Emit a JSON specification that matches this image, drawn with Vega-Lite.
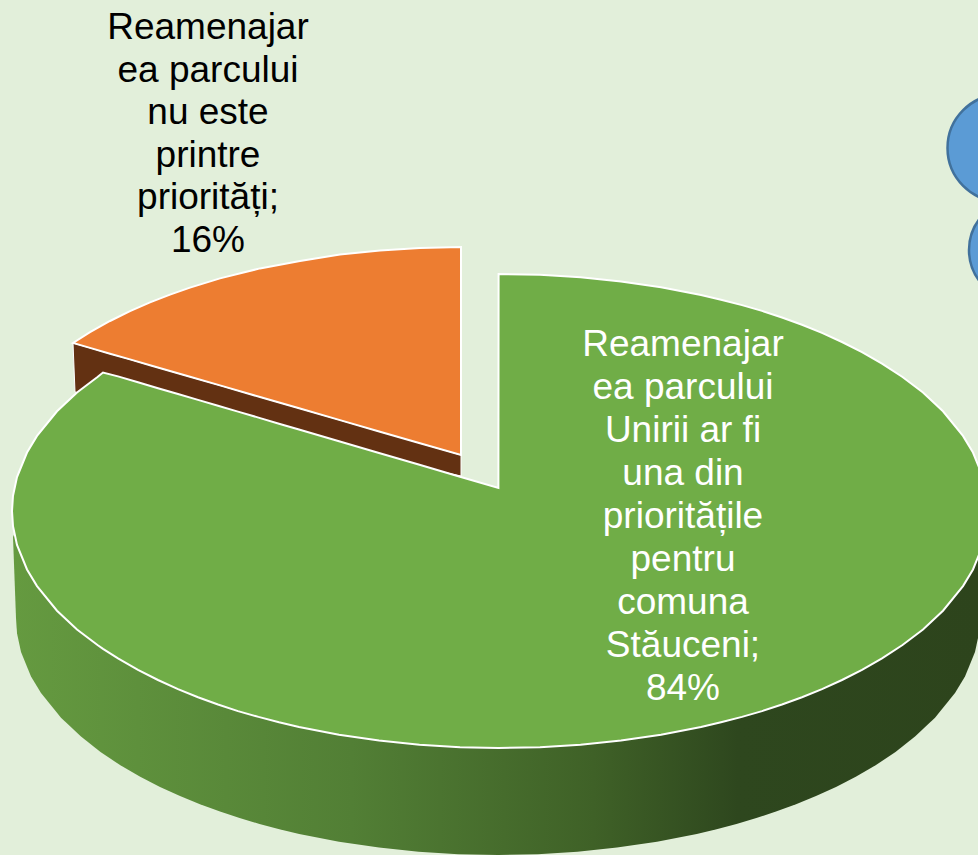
{"$schema":"https://vega.github.io/schema/vega-lite/v6.json","width":978,"height":855,"padding":0,"autosize":{"type":"none"},"background":"#E2EFDA","config":{"view":{"stroke":null}},
"datasets":{
"side":[{"x":13,"y":537,"y2":537},{"x":16,"y":530,"y2":618},{"x":17,"y":530,"y2":633.2},{"x":21,"y":530,"y2":651.9},{"x":31,"y":530,"y2":676.5},{"x":41,"y":530,"y2":693.1},{"x":61,"y":530,"y2":717.7},{"x":81,"y":530,"y2":736.5},{"x":100.5,"y":530,"y2":752},{"x":120.4,"y":530,"y2":765.3},{"x":140.2,"y":530,"y2":776.8},{"x":160,"y":530,"y2":787},{"x":180,"y":530,"y2":796.1},{"x":200,"y":530,"y2":804.2},{"x":220,"y":530,"y2":811.5},{"x":239.6,"y":530,"y2":818.1},{"x":259.5,"y":530,"y2":823.9},{"x":279.4,"y":530,"y2":829.2},{"x":299.2,"y":530,"y2":833.9},{"x":339,"y":530,"y2":841.7},{"x":379,"y":530,"y2":847.6},{"x":418.5,"y":530,"y2":851.8},{"x":458.2,"y":530,"y2":854.2},{"x":498,"y":530,"y2":855},{"x":537.8,"y":530,"y2":854.2},{"x":577.5,"y":530,"y2":851.8},{"x":617,"y":530,"y2":847.6},{"x":657,"y":530,"y2":841.7},{"x":696.8,"y":530,"y2":833.9},{"x":716.6,"y":530,"y2":829.2},{"x":736.5,"y":530,"y2":823.9},{"x":756.4,"y":530,"y2":818.1},{"x":776,"y":530,"y2":811.5},{"x":796,"y":530,"y2":804.2},{"x":816,"y":530,"y2":796.1},{"x":836,"y":530,"y2":787},{"x":855.8,"y":530,"y2":776.8},{"x":875.6,"y":530,"y2":765.3},{"x":895.5,"y":530,"y2":752},{"x":915,"y":530,"y2":736.5},{"x":935,"y":530,"y2":717.7},{"x":955,"y":530,"y2":693.1},{"x":965,"y":530,"y2":676.5},{"x":975,"y":530,"y2":651.9},{"x":979,"y":530,"y2":633.2},{"x":980,"y":530,"y2":618}],
"brown":[{"x":73,"y":343,"y2":343},{"x":75,"y":343.6,"y2":392},{"x":461,"y":455,"y2":476}],
"orange":[{"x":73,"y":343,"y2":343},{"x":90,"y":332.2,"y2":347.9},{"x":110,"y":321,"y2":353.7},{"x":130,"y":311.2,"y2":359.4},{"x":150,"y":302.4,"y2":365.2},{"x":170,"y":294.6,"y2":371},{"x":190,"y":287.6,"y2":376.8},{"x":220,"y":278.4,"y2":385.4},{"x":260,"y":268.4,"y2":397},{"x":300,"y":261,"y2":408.5},{"x":340,"y":254.5,"y2":420.1},{"x":380,"y":250.4,"y2":431.7},{"x":420,"y":248,"y2":443.2},{"x":461,"y":247,"y2":455}],
"green":[{"x":12,"y":511,"y2":511},{"x":13,"y":495.8,"y2":526.2},{"x":17,"y":477.1,"y2":544.9},{"x":27,"y":452.5,"y2":569.5},{"x":37,"y":435.9,"y2":586.1},{"x":57,"y":411.3,"y2":610.7},{"x":77,"y":392.5,"y2":629.5},{"x":97.5,"y":377,"y2":645},{"x":103,"y":372.5,"y2":648.8},{"x":118,"y":376.4,"y2":658.3},{"x":138,"y":382.3,"y2":669.8},{"x":158,"y":388.2,"y2":680},{"x":178,"y":394,"y2":689.1},{"x":198,"y":399.9,"y2":697.2},{"x":218,"y":405.8,"y2":704.5},{"x":238,"y":411.6,"y2":711.1},{"x":258.5,"y":417.6,"y2":716.9},{"x":279,"y":423.7,"y2":722.2},{"x":299,"y":429.5,"y2":726.9},{"x":339,"y":441.2,"y2":734.7},{"x":379,"y":453,"y2":740.6},{"x":419.5,"y":464.8,"y2":744.8},{"x":460,"y":476.7,"y2":747.2},{"x":498.4,"y":488,"y2":748},{"x":498.6,"y":274,"y2":748},{"x":540,"y":274.8,"y2":747.2},{"x":580.5,"y":277.2,"y2":744.8},{"x":621,"y":281.4,"y2":740.6},{"x":661,"y":287.3,"y2":734.7},{"x":701,"y":295.1,"y2":726.9},{"x":721,"y":299.8,"y2":722.2},{"x":742,"y":305.1,"y2":716.9},{"x":762,"y":310.9,"y2":711.1},{"x":782,"y":317.5,"y2":704.5},{"x":802,"y":324.8,"y2":697.2},{"x":822,"y":332.9,"y2":689.1},{"x":842,"y":342,"y2":680},{"x":862,"y":352.2,"y2":669.8},{"x":882,"y":363.7,"y2":658.3},{"x":902.5,"y":377,"y2":645},{"x":923,"y":392.5,"y2":629.5},{"x":943,"y":411.3,"y2":610.7},{"x":963,"y":435.9,"y2":586.1},{"x":973,"y":452.5,"y2":569.5},{"x":983,"y":477.1,"y2":544.9},{"x":987,"y":495.8,"y2":526.2},{"x":988,"y":511,"y2":511}]
},
"encoding":{"x":{"field":"x","type":"quantitative","scale":{"domain":[0,978],"nice":false,"zero":false},"axis":null},"y":{"field":"y","type":"quantitative","scale":{"domain":[855,0],"nice":false,"zero":false},"axis":null}},
"layer":[
{"data":{"values":[{"x":1001,"y":148}]},"mark":{"type":"point","shape":"circle","filled":true,"fill":"#5B9BD5","stroke":"#41719C","strokeWidth":2.5,"size":11449,"opacity":1,"clip":true}},
{"data":{"values":[{"x":1020,"y":250}]},"mark":{"type":"point","shape":"circle","filled":true,"fill":"#5B9BD5","stroke":"#41719C","strokeWidth":2.5,"size":10404,"opacity":1,"clip":true}},
{"data":{"name":"side"},"mark":{"type":"area","clip":true,"color":{"gradient":"linear","x1":0,"y1":0,"x2":1,"y2":0,"stops":[{"offset":0,"color":"#659A40"},{"offset":0.35,"color":"#527F35"},{"offset":0.6,"color":"#3F6127"},{"offset":0.75,"color":"#2E471E"},{"offset":1,"color":"#2D441C"}]}},"encoding":{"y2":{"field":"y2"}}},
{"data":{"name":"brown"},"mark":{"type":"area","color":"#633112","stroke":"#FFFFFF","strokeWidth":1},"encoding":{"y2":{"field":"y2"}}},
{"data":{"name":"orange"},"mark":{"type":"area","color":"#ED7D31","stroke":"#FFFFFF","strokeWidth":2},"encoding":{"y2":{"field":"y2"}}},
{"data":{"name":"green"},"mark":{"type":"area","clip":true,"color":"#70AD47","stroke":"#FFFFFF","strokeWidth":2},"encoding":{"y2":{"field":"y2"}}},
{"data":{"values":[{"x":208,"y":10,"share":16,"label":"Reamenajar\nea parcului\nnu este\nprintre\npriorități;\n16%"}]},"mark":{"type":"text","font":"Liberation Sans","fontSize":37,"lineHeight":42.6,"lineBreak":"\n","align":"center","baseline":"top","color":"#000000"},"encoding":{"text":{"field":"label"}}},
{"data":{"values":[{"x":683,"y":327,"share":84,"label":"Reamenajar\nea parcului\nUnirii ar fi\nuna din\nprioritățile\npentru\ncomuna\nStăuceni;\n84%"}]},"mark":{"type":"text","font":"Liberation Sans","fontSize":37,"lineHeight":43,"lineBreak":"\n","align":"center","baseline":"top","color":"#FFFFFF"},"encoding":{"text":{"field":"label"}}}
]}
